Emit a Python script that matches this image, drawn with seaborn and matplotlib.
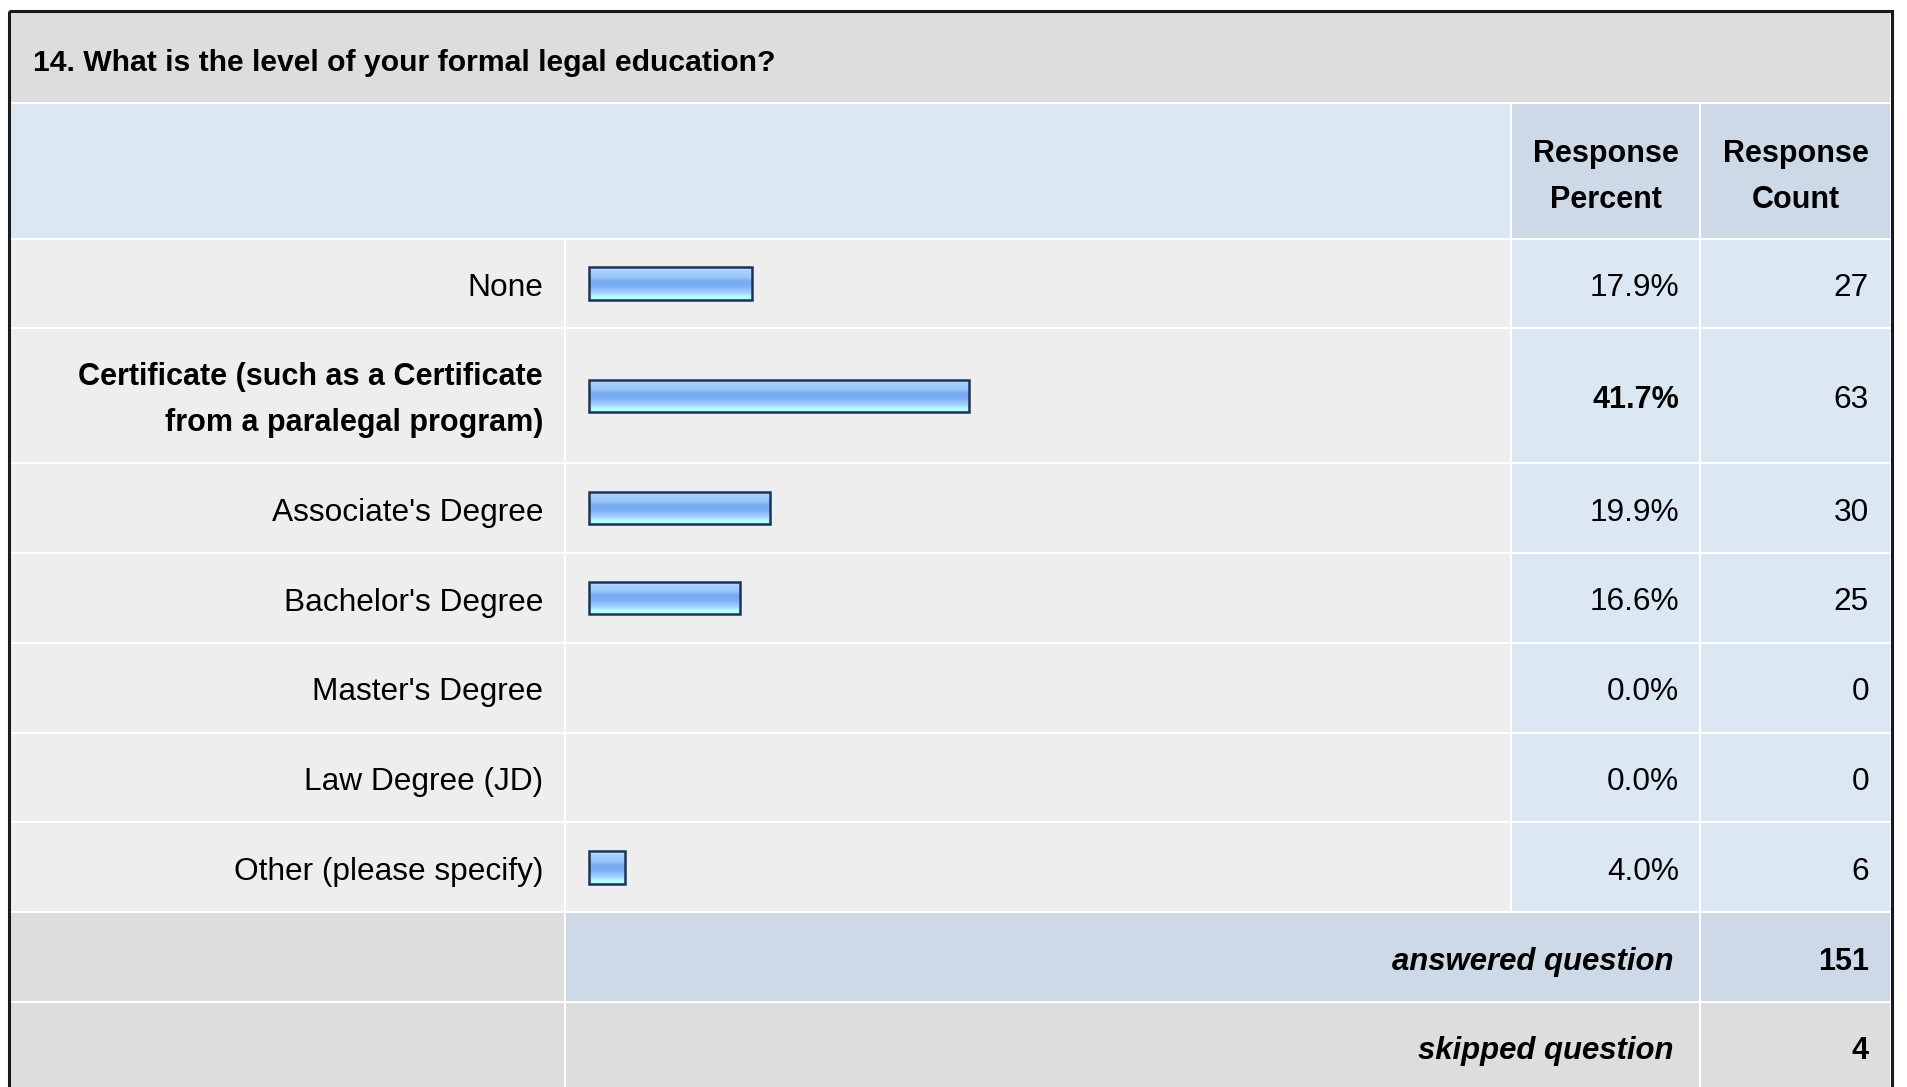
import numpy as np
import pandas as pd
import matplotlib
matplotlib.use("Agg")
import matplotlib.pyplot as plt
from matplotlib.patches import Rectangle
from matplotlib.colors import LinearSegmentedColormap
import seaborn as sns

# ---- survey results -------------------------------------------------------
question = "14. What is the level of your formal legal education?"
answer_choices = [
    "None",
    "Certificate (such as a Certificate\nfrom a paralegal program)",
    "Associate's Degree",
    "Bachelor's Degree",
    "Master's Degree",
    "Law Degree (JD)",
    "Other (please specify)",
]
response_percent = [17.9, 41.7, 19.9, 16.6, 0.0, 0.0, 4.0]
response_count = [27, 63, 30, 25, 0, 0, 6]
column_headers = ["Response\nPercent", "Response\nCount"]
summary_labels = ["answered question", "skipped question"]
summary_counts = [151, 4]

# ---- styling --------------------------------------------------------------
sns.set_theme(style="white")
plt.rcParams["font.family"] = ["Liberation Sans", "DejaVu Sans"]

W, H = 1907, 1087
FS_REG = 22.8        # regular text, pt
FS_BOLD = 22.0       # bold text, pt
FS_ITAL = 22.4       # bold italic totals, pt
FS_TITLE = 21.7
LINE_PITCH = 46      # px between stacked lines
CAP_OFF = 12.5       # baseline offset from a cell's vertical centre

C_TITLE = "#dddddd"
C_HEAD = "#dce7f4"
C_HEAD_DARK = "#cdd9e6"
C_CELL = "#eeeeee"
C_DATA = "#dce7f4"
C_TEXT = "#000000"

# columns (pixel spans)
COL_LABEL = (10, 564)
COL_BAR = (566, 1510)
COL_PCT = (1512, 1699)
COL_CNT = (1701, 1890)
TITLE_ROW = (12, 102)
HEADER_ROW = (104, 238)
ROW_GAP = 2
ROW_H = 87.8
ROW_H_TALL = 133

ZERO_PX = 589        # where 0 % sits
PX_PER_PCT = 9.12
BAR_H = 32.5

fig = plt.figure(figsize=(W / 100, H / 100), dpi=100)
fig.patch.set_facecolor("white")
ax = fig.add_axes([0, 0, 1, 1])
ax.set_xlim(0, W)
ax.set_ylim(H, 0)
ax.axis("off")


def cell(x0, x1, y0, y1, color):
    ax.add_patch(Rectangle((x0, y0), x1 - x0, y1 - y0, facecolor=color,
                           edgecolor="none", zorder=1))


def put(x, yc, text, ha, weight="normal", style="normal"):
    if style == "italic":
        fs = FS_ITAL
    else:
        fs = FS_BOLD if weight == "bold" else FS_REG
    lines = text.split("\n")
    n = len(lines)
    for i, line in enumerate(lines):
        base = yc + (i - (n - 1) / 2) * LINE_PITCH + CAP_OFF
        ax.text(x, base, line, ha=ha, va="baseline", fontsize=fs,
                fontweight=weight, fontstyle=style, color=C_TEXT, zorder=5)


# title row
cell(COL_LABEL[0], COL_CNT[1], *TITLE_ROW, C_TITLE)
ax.text(33, 71, question, ha="left", va="baseline", fontsize=FS_TITLE,
        fontweight="bold", color=C_TEXT, zorder=5)

# header row
cell(COL_LABEL[0], COL_BAR[1], *HEADER_ROW, C_HEAD)
cell(*COL_PCT, *HEADER_ROW, C_HEAD_DARK)
cell(*COL_CNT, *HEADER_ROW, C_HEAD_DARK)
hc = (HEADER_ROW[0] + HEADER_ROW[1]) / 2 + 1.5
put((COL_PCT[0] + COL_PCT[1]) / 2, hc, column_headers[0], "center", weight="bold")
put((COL_CNT[0] + COL_CNT[1]) / 2, hc, column_headers[1], "center", weight="bold")

# answer rows
top = HEADER_ROW[1] + 1.5
centers = []
max_pct = max(response_percent)
for label, pct, cnt in zip(answer_choices, response_percent, response_count):
    h = ROW_H_TALL if "\n" in label else ROW_H
    y0, y1 = top, top + h
    cell(*COL_LABEL, y0, y1, C_CELL)
    cell(*COL_BAR, y0, y1, C_CELL)
    cell(*COL_PCT, y0, y1, C_DATA)
    cell(*COL_CNT, y0, y1, C_DATA)
    yc = (y0 + y1) / 2
    centers.append(yc)
    is_top = pct == max_pct
    put(543, yc, label, "right", weight="bold" if is_top else "normal")
    put(1679, yc, f"{pct:.1f}%", "right", weight="bold" if is_top else "normal")
    put(1869, yc, f"{cnt}", "right")
    top = y1 + ROW_GAP

# summary rows
summary_fill = [(C_TITLE, C_HEAD_DARK, C_HEAD_DARK), (C_TITLE, C_TITLE, C_TITLE)]
for label, total, (c_left, c_mid, c_cnt) in zip(summary_labels, summary_counts, summary_fill):
    y0, y1 = top, top + ROW_H
    cell(*COL_LABEL, y0, y1, c_left)
    cell(COL_BAR[0], COL_PCT[1], y0, y1, c_mid)
    cell(*COL_CNT, y0, y1, c_cnt)
    yc = (y0 + y1) / 2
    put(1673, yc, label, "right", weight="bold", style="italic")
    put(1869, yc, f"{total}", "right", weight="bold")
    top = y1 + ROW_GAP

# outer frame
ax.add_patch(Rectangle((8.5, 10.5), 1891.5 - 8.5, H + 20, facecolor="none",
                       edgecolor="#1a1a1a", linewidth=2.2, zorder=6))

# ---- bars -----------------------------------------------------------------
bar_ax = fig.add_axes([COL_BAR[0] / W, 0, (COL_BAR[1] - COL_BAR[0]) / W, 1])
df = pd.DataFrame({"choice": answer_choices, "percent": response_percent,
                   "ypos": centers})
df = df[df["percent"] > 0]
min_gap = np.min(np.diff(np.sort(df["ypos"].values)))
sns.barplot(data=df, x="percent", y="ypos", orient="y", native_scale=True,
            width=BAR_H / min_gap, errorbar=None, color="#8ebefa",
            edgecolor="#1c3456", linewidth=1.8, ax=bar_ax)
bar_ax.set_xlim((COL_BAR[0] - ZERO_PX) / PX_PER_PCT,
                (COL_BAR[1] - ZERO_PX) / PX_PER_PCT)
bar_ax.set_ylim(H, 0)
bar_ax.axis("off")

# glossy vertical gradient inside each bar
grad_cmap = LinearSegmentedColormap.from_list("gloss", [
    (0.00, "#cde4ff"), (0.12, "#a9d0ff"), (0.30, "#9ac8ff"),
    (0.42, "#79abf0"), (0.58, "#7aaef2"), (0.70, "#94c4fc"),
    (0.82, "#a8d8ff"), (0.88, "#b6fbff"), (1.00, "#bcffff")])
grad = np.linspace(0, 1, 64).reshape(-1, 1)
for patch in bar_ax.patches:
    x, y = patch.get_x(), patch.get_y()
    w, h = patch.get_width(), patch.get_height()
    patch.set_facecolor("none")
    patch.set_zorder(3)
    im = bar_ax.imshow(grad, cmap=grad_cmap, aspect="auto", origin="upper",
                       extent=(x, x + w, y + h, y), zorder=2,
                       interpolation="bilinear")
    im.set_clip_path(patch)
bar_ax.set_xlim((COL_BAR[0] - ZERO_PX) / PX_PER_PCT,
                (COL_BAR[1] - ZERO_PX) / PX_PER_PCT)
bar_ax.set_ylim(H, 0)

fig.savefig("out.png", dpi=100, facecolor="white")
